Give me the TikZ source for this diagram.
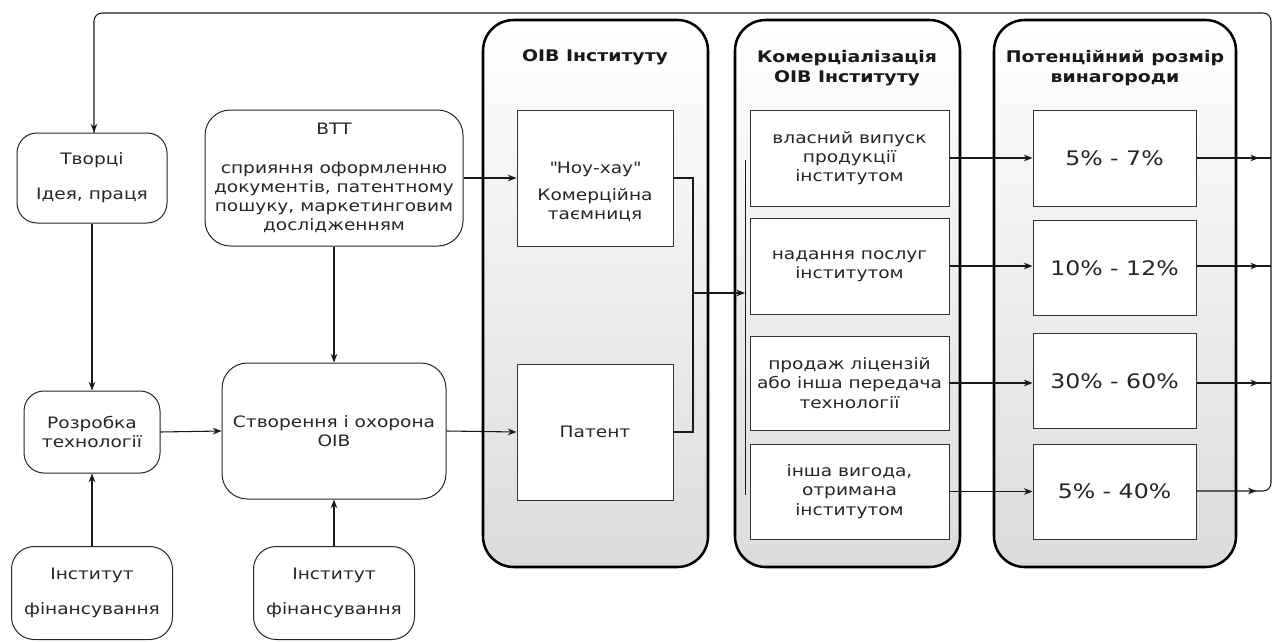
\documentclass[tikz,border=0pt]{standalone}
\usepackage{fontspec}
\setmainfont{DejaVu Sans}[FakeStretch=1.18]
\usetikzlibrary{arrows.meta,decorations.markings}
\newcommand{\straightq}{{\XeTeXglyph\XeTeXcharglyph"22\relax}}
\begin{document}
\begin{tikzpicture}[x=0.75pt,y=-0.75pt,
  txt/.style={font=\fontsize{11.8pt}{14.4pt}\selectfont, text=black!85, align=center},
  rbox/.style={txt, draw=black!85, line width=0.75pt, fill=white, inner sep=0pt, rounded corners=15pt},
  sbox/.style={txt, draw=black!80, line width=0.75pt, fill=white, inner sep=0pt},
  cont/.style={draw=black, line width=1.9pt, rounded corners=23pt, top color=white, bottom color=black!14, inner sep=0pt},
  ttl/.style={font=\bfseries\fontsize{12pt}{15pt}\selectfont, text=black!90, align=center},
  pct/.style={sbox, font=\fontsize{15pt}{18pt}\selectfont},
  conn/.style={draw=black!90, line width=0.8pt},
  arr/.style={conn, -{Stealth[length=6.5pt,width=5pt]}},
  midarr/.style={conn, postaction={decorate}, decoration={markings, mark=at position #1 with {\arrow{Stealth[length=6.5pt,width=5pt]}}}}
]
\useasboundingbox (0,0) rectangle (1274,642);

% containers
\node[cont, minimum width=225*0.75pt, minimum height=547*0.75pt] (C1) at (595.5,293.5) {};
\node[cont, minimum width=225*0.75pt, minimum height=547*0.75pt] (C2) at (847.5,293.5) {};
\node[cont, minimum width=242*0.75pt, minimum height=547*0.75pt] (C3) at (1115,293.5) {};
\node[ttl] (t1) at (595,57) {ОІВ Інституту};
\node[ttl] (t2) at (847,68) {Комерціалізація\\ОІВ Інституту};
\node[ttl] (t3) at (1115,68) {Потенційний розмір\\винагороди};

% left boxes
\node[rbox, minimum width=150*0.75pt, minimum height=90*0.75pt] (cr) at (92,178) {Творці\\[12pt]Ідея, праця};
\node[rbox, rounded corners=19pt, minimum width=258*0.75pt, minimum height=136*0.75pt] (btt) at (334,178) {ВТТ\\[14.4pt]сприяння оформленню\\документів, патентному\\пошуку, маркетинговим\\дослідженням};
\node[rbox, minimum width=136*0.75pt, minimum height=82*0.75pt] (rt) at (92,432) {Розробка\\технології};
\node[rbox, rounded corners=19pt, minimum width=224*0.75pt, minimum height=136*0.75pt] (st) at (334,431) {Створення і охорона\\ОІВ};
\node[rbox, rounded corners=17pt, minimum width=161*0.75pt, minimum height=93*0.75pt] (f1) at (92,593) {Інститут\\[12pt]фінансування};
\node[rbox, rounded corners=17pt, minimum width=161*0.75pt, minimum height=93*0.75pt] (f2) at (334,593) {Інститут\\[12pt]фінансування};

% OIB boxes
\node[sbox, minimum width=156*0.75pt, minimum height=136*0.75pt] (nh) at (595,178) {};
\node[txt] (nht) at (595,192) {\straightq Ноу-хау\straightq\\[6pt]Комерційна\\таємниця};
\node[sbox, minimum width=156*0.75pt, minimum height=136*0.75pt] (pat) at (595,432) {Патент};

% commercialisation boxes
\node[sbox, minimum width=199*0.75pt, minimum height=96*0.75pt] (k1) at (849.5,158) {власний випуск\\продукції\\інститутом};
\node[sbox, minimum width=199*0.75pt, minimum height=96*0.75pt] (k2) at (849.5,266) {надання послуг\\інститутом};
\node[sbox, minimum width=199*0.75pt, minimum height=94*0.75pt] (k3) at (849.5,383) {продаж ліцензій\\або інша передача\\технології};
\node[sbox, minimum width=199*0.75pt, minimum height=95*0.75pt] (k4) at (849.5,491.5) {інша вигода,\\отримана\\інститутом};

% percent boxes
\node[pct, minimum width=163*0.75pt, minimum height=96*0.75pt] (q1) at (1114.5,158) {5\% - 7\%};
\node[pct, minimum width=163*0.75pt, minimum height=95*0.75pt] (q2) at (1114.5,268) {10\% - 12\%};
\node[pct, minimum width=163*0.75pt, minimum height=95*0.75pt] (q3) at (1114.5,381) {30\% - 60\%};
\node[pct, minimum width=163*0.75pt, minimum height=95*0.75pt] (q4) at (1114.5,491.5) {5\% - 40\%};

% coordinates
\coordinate (vb1) at (745,160);
\coordinate (vb2) at (745,495);
\coordinate (vbm) at (745,293);
\coordinate (br1) at (693,178);
\coordinate (br2) at (693,432);
\coordinate (brm) at (693,293);
\coordinate (r1) at (1271,158);
\coordinate (r2) at (1271,266);
\coordinate (r3) at (1271,383);
\coordinate (r4) at (1271,491);
\coordinate (rt1) at (1271,13);
\coordinate (lt1) at (94,13);

% connectors left
\draw[arr] (cr.south) -- (rt.north);
\draw[arr] (f1.north) -- (rt.south);
\draw[arr] (btt.south) -- (st.north);
\draw[arr] (f2.north) -- (st.south);
\draw[arr] (rt.east) -- (st.west);
\draw[arr] (st.east) -- (pat.west);
\draw[arr] (btt.east) -- (nh.west);

% bracket
\draw[conn] (nh.east) -- (br1) -- (br2) -- (pat.east);
\draw[arr] (brm) -- (vbm);
\draw[conn, line width=0.7pt] (vb1) -- (vb2);

% to percent boxes
\draw[arr] (k1.east) -- (k1.east -| q1.west);
\draw[arr] (k2.east) -- (k2.east -| q2.west);
\draw[arr] (k3.east) -- (k3.east -| q3.west);
\draw[arr] (k4.east) -- (k4.east -| q4.west);

% to right collector
\draw[midarr=-9pt] (q1.east |- r1) -- (r1);
\draw[midarr=-9pt] (q2.east |- r2) -- (r2);
\draw[midarr=-9pt] (q3.east |- r3) -- (r3);
\draw[midarr=45pt, rounded corners=6pt] (q4.east |- r4) -- (r4) -- (rt1) -- (lt1) -- (lt1 |- cr.north);
\draw[arr] ([yshift=4pt]lt1 |- cr.north) -- (lt1 |- cr.north);
\end{tikzpicture}
\end{document}
